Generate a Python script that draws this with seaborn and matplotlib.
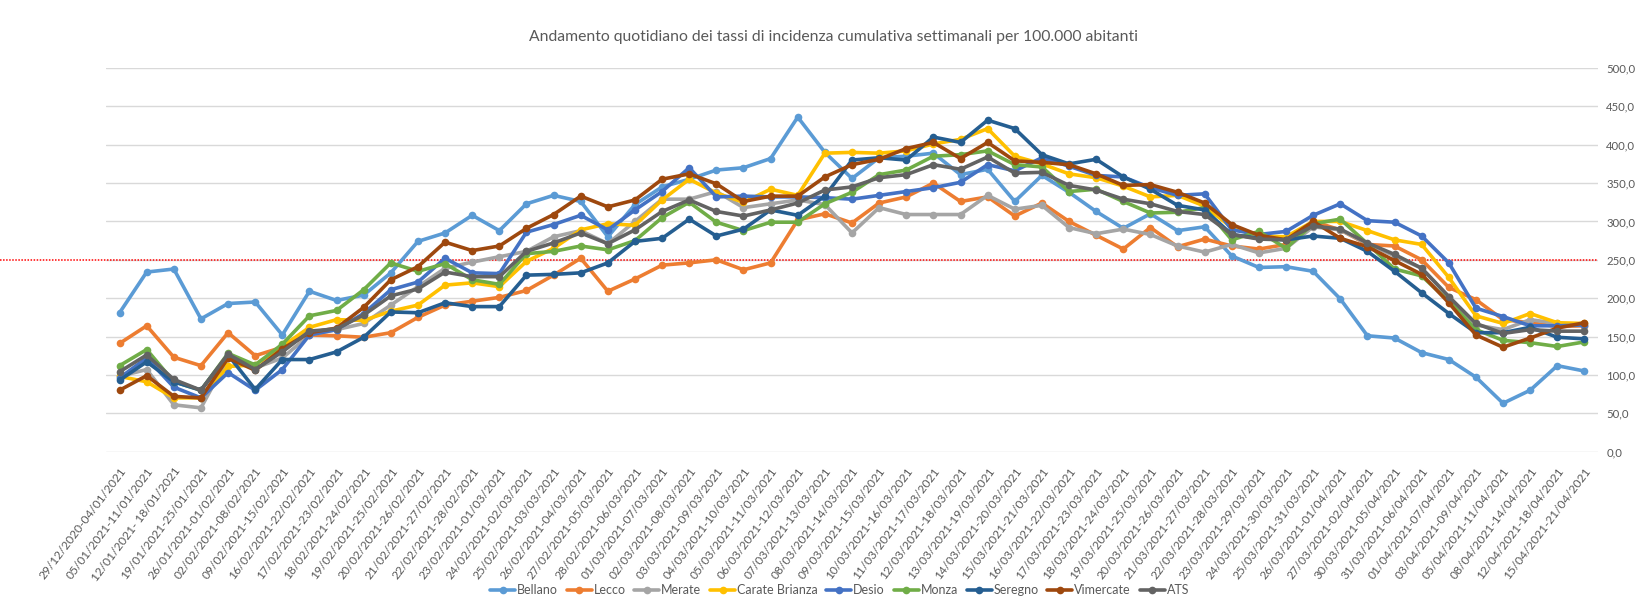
import matplotlib
matplotlib.use("Agg")
import matplotlib.pyplot as plt
import numpy as np
import pandas as pd
import seaborn as sns

periodi = [
    "29/12/2020-04/01/2021", "05/01/2021-11/01/2021", "12/01/2021- 18/01/2021", "19/01/2021-25/01/2021",
    "26/01/2021-01/02/2021", "02/02/2021-08/02/2021", "09/02/2021-15/02/2021", "16/02/2021-22/02/2021",
    "17/02/2021-23/02/2021", "18/02/2021-24/02/2021", "19/02/2021-25/02/2021", "20/02/2021-26/02/2021",
    "21/02/2021-27/02/2021", "22/02/2021-28/02/2021", "23/02/2021-01/03/2021", "24/02/2021-02/03/2021",
    "25/02/2021-03/03/2021", "26/02/2021-04/03/2021", "27/02/2021-05/03/2021", "28/02/2021-06/03/2021",
    "01/03/2021-07/03/2021", "02/03/2021-08/03/2021", "03/03/2021-09/03/2021", "04/03/2021-10/03/2021",
    "05/03/2021-11/03/2021", "06/03/2021-12/03/2021", "07/03/2021-13/03/2021", "08/03/2021-14/03/2021",
    "09/03/2021-15/03/2021", "10/03/2021-16/03/2021", "11/03/2021-17/03/2021", "12/03/2021-18/03/2021",
    "13/03/2021-19/03/2021", "14/03/2021-20/03/2021", "15/03/2021-21/03/2021", "16/03/2021-22/03/2021",
    "17/03/2021-23/03/2021", "18/03/2021-24/03/2021", "19/03/2021-25/03/2021", "20/03/2021-26/03/2021",
    "21/03/2021-27/03/2021", "22/03/2021-28/03/2021", "23/03/2021-29/03/2021", "24/03/2021-30/03/2021",
    "25/03/2021-31/03/2021", "26/03/2021-01/04/2021", "27/03/2021-02/04/2021", "30/03/2021-05/04/2021",
    "31/03/2021-06/04/2021", "01/04/2021-07/04/2021", "03/04/2021-09/04/2021", "05/04/2021-11/04/2021",
    "08/04/2021-14/04/2021", "12/04/2021-18/04/2021", "15/04/2021-21/04/2021",
]

bellano = [181, 234, 238, 173, 193, 195, 152, 209, 197, 204, 233,
           274, 285, 308, 288, 323, 334, 326, 280, 322, 345,
           355, 367, 370, 382, 436, 390, 356, 383, 385, 389, 361,
           368, 326, 360, 338, 313, 291, 310, 288, 293, 255,
           240, 241, 235, 199, 151, 148, 129, 120, 97, 63, 80, 112, 105]
lecco = [141, 164, 123, 112, 155, 125, 136, 152, 151, 149, 155,
         175, 191, 196, 201, 210, 230, 252, 209, 225, 243,
         246, 250, 237, 246, 302, 310, 298, 324, 332, 350, 326,
         332, 307, 324, 300, 282, 264, 292, 267, 277, 268,
         264, 270, 300, 289, 270, 268, 250, 214, 198, 172, 168, 163, 164]
merate = [98, 107, 61, 57, 122, 109, 122, 152, 159, 167, 191,
          215, 239, 247, 254, 261, 280, 288, 271, 300, 329,
          329, 339, 318, 323, 328, 322, 285, 318, 309, 309, 309,
          334, 316, 321, 292, 284, 290, 283, 268, 260, 270,
          259, 265, 293, 289, 271, 255, 239, 202, 165, 159, 172, 167, 164]
carate = [98, 91, 70, 70, 111, 113, 137, 162, 172, 171, 183,
          191, 217, 220, 215, 248, 265, 289, 297, 295, 328,
          355, 337, 325, 342, 334, 389, 390, 389, 392, 401, 407,
          421, 385, 375, 362, 357, 346, 332, 334, 320, 292,
          281, 280, 300, 300, 288, 276, 270, 227, 177, 167, 180, 168, 167]
desio = [96, 122, 84, 70, 103, 80, 107, 152, 159, 180, 211,
         221, 252, 233, 232, 286, 296, 308, 289, 315, 339,
         370, 332, 333, 332, 332, 331, 329, 334, 339, 344, 351,
         374, 366, 383, 372, 360, 358, 344, 334, 336, 289,
         283, 287, 308, 323, 301, 299, 281, 246, 187, 176, 164, 164, 165]
monza = [112, 133, 91, 80, 128, 113, 140, 177, 184, 211, 246,
         235, 245, 224, 218, 258, 261, 268, 263, 275, 305,
         325, 299, 288, 299, 299, 323, 338, 361, 367, 385, 387,
         392, 374, 371, 339, 342, 326, 311, 312, 318, 276,
         287, 265, 297, 303, 271, 238, 229, 196, 159, 145, 142, 137, 143]
seregno = [93, 117, 91, 80, 126, 81, 120, 120, 130, 149, 182,
           181, 194, 189, 189, 230, 231, 233, 246, 274, 278,
           303, 281, 290, 315, 308, 333, 380, 383, 380, 410, 403,
           432, 421, 387, 375, 381, 358, 342, 321, 315, 283,
           278, 276, 281, 278, 261, 235, 207, 180, 155, 155, 162, 149, 147]
vimercate = [80, 99, 72, 70, 122, 106, 134, 155, 161, 188, 224,
             241, 273, 262, 268, 291, 309, 333, 319, 328, 355,
             362, 349, 326, 333, 333, 358, 374, 381, 395, 403, 382,
             403, 379, 377, 374, 362, 347, 348, 338, 324, 296,
             282, 276, 300, 278, 267, 249, 231, 194, 152, 136, 148, 161, 168]
ats = [104, 126, 94, 80, 127, 107, 130, 157, 160, 178, 203,
       212, 234, 228, 228, 261, 272, 285, 271, 289, 313,
       328, 313, 307, 315, 324, 341, 345, 357, 361, 374, 368,
       384, 363, 364, 347, 341, 329, 323, 313, 309, 283,
       277, 276, 294, 290, 272, 257, 239, 202, 167, 154, 159, 157, 157]

zone = ["Bellano", "Lecco", "Merate", "Carate Brianza", "Desio", "Monza", "Seregno", "Vimercate", "ATS"]
serie = [bellano, lecco, merate, carate, desio, monza, seregno, vimercate, ats]
colori = ["#5B9BD5", "#ED7D31", "#A5A5A5", "#FFC000", "#4472C4", "#70AD47", "#255E91", "#9E480E", "#636363"]
soglia = 250

df = pd.concat([pd.DataFrame({"x": np.arange(len(periodi)), "tasso": s, "zona": z})
                for z, s in zip(zone, serie)])

sns.set_style("white")
plt.rcParams["font.family"] = ["Lato", "DejaVu Sans"]
grigio = "#595959"

fig = plt.figure(figsize=(16.4, 6.01), dpi=100)
# area del grafico in pixel: x 106-1598, y 68-451
ax = fig.add_axes([106 / 1640, 1 - 451.6 / 601, (1598 - 106) / 1640, (451.6 - 68) / 601])

sns.lineplot(data=df, x="x", y="tasso", hue="zona", hue_order=zone, palette=colori,
             marker="o", markersize=5.5, markeredgewidth=0, linewidth=2.6, ax=ax)

# soglia rossa tratteggiata, parte dal bordo sinistro della figura
ax.axhline(soglia, xmin=-106 / (1598 - 106), xmax=1.0, color="red", lw=1.1, ls=(0, (1, 1)),
           clip_on=False, zorder=1)

ax.set_xlim(-0.5, len(periodi) - 0.5)
ax.set_ylim(0, 500)
ax.set_yticks(np.arange(0, 501, 50))
ax.set_yticklabels([f"{v:.1f}".replace(".", ",") for v in np.arange(0, 501, 50)])
ax.yaxis.tick_right()
ax.tick_params(axis="y", length=0, pad=6, labelsize=8.2, labelcolor=grigio)
ax.set_xticks(np.arange(len(periodi)))
ax.set_xticklabels(periodi, rotation=53, ha="right", rotation_mode="anchor")
ax.tick_params(axis="x", length=0, pad=10, labelsize=8.6, labelcolor=grigio)
ax.grid(axis="y", color="#D9D9D9", lw=1)
ax.set_axisbelow(True)
for s in ax.spines.values():
    s.set_visible(False)
ax.set_xlabel("")
ax.set_ylabel("")

h, l = ax.get_legend_handles_labels()
ax.get_legend().remove()
fig.legend(h, l, loc="center", bbox_to_anchor=(0.512, 1 - 590 / 601), ncol=9, frameon=False,
           fontsize=9, labelcolor=grigio, handlelength=2.0, handletextpad=0.15, columnspacing=0.7)

fig.text(0.508, 1 - 37 / 601, "Andamento quotidiano dei tassi di incidenza cumulativa settimanali per 100.000 abitanti",
         ha="center", va="center", fontsize=11.3, color=grigio)

fig.savefig("out.png", dpi=100)
